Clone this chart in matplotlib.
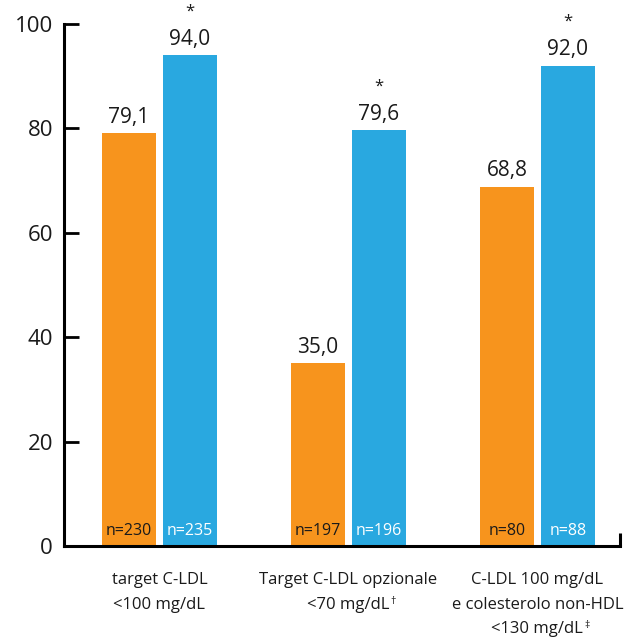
import matplotlib
matplotlib.use("Agg")
import matplotlib.pyplot as plt
import numpy as np

plt.rcParams['font.family'] = ['Open Sans', 'DejaVu Sans']

categories = [["target C-LDL", "<100 mg/dL"],
              ["Target C-LDL opzionale", "<70 mg/dL"],
              ["C-LDL 100 mg/dL", "e colesterolo non-HDL", "<130 mg/dL"]]
category_marks = ["", "\u2020", "\u2021"]
orange_vals = [79.1, 35.0, 68.8]
blue_vals = [94.0, 79.6, 92.0]
orange_n = [230, 197, 80]
blue_n = [235, 196, 88]
blue_star = [True, True, True]
yticks = [0, 20, 40, 60, 80, 100]

ORANGE = "#F7941D"
BLUE = "#29A8E0"
TEXT = "#1a1a1a"

fig = plt.figure(figsize=(6.29, 6.38), dpi=100)
ax = fig.add_axes([64/629, 92/638, 556/629, 522/638])

x = np.arange(len(categories))
w = 0.2857
off = 0.1614

ax.bar(x - off, orange_vals, width=w, color=ORANGE, zorder=2)
ax.bar(x + off, blue_vals, width=w, color=BLUE, zorder=2)

def fmt(v):
    return f"{v:.1f}".replace(".", ",")

for xi, v, n in zip(x - off, orange_vals, orange_n):
    ax.annotate(fmt(v), (xi, v), xytext=(0, 4), textcoords="offset points",
                ha="center", va="bottom", fontsize=15, color=TEXT)
    ax.annotate(f"n={n}", (xi, 0), xytext=(0, 11), textcoords="offset points",
                ha="center", va="center", fontsize=11.5, color=TEXT)

for xi, v, n, s in zip(x + off, blue_vals, blue_n, blue_star):
    ax.annotate(fmt(v), (xi, v), xytext=(0, 4), textcoords="offset points",
                ha="center", va="bottom", fontsize=15, color=TEXT)
    if s:
        ax.annotate("*", (xi, v), xytext=(0, 26), textcoords="offset points",
                    ha="center", va="bottom", fontsize=12, color=TEXT)
    ax.annotate(f"n={n}", (xi, 0), xytext=(0, 11), textcoords="offset points",
                ha="center", va="center", fontsize=11.5, color="white")

ax.set_xlim(-0.505, 2.437)
ax.set_ylim(0, 100)
ax.set_yticks(yticks)
ax.set_yticklabels([str(t) for t in yticks], fontsize=16, color=TEXT)
ax.set_xticks(x)
ax.set_xticklabels([])
ax.tick_params(axis="y", direction="in", length=11, width=2, pad=8, color="black")
ax.tick_params(axis="x", length=0)

# category labels, one line at a time, with superscript footnote marks
line_offsets = [24.5, 42.5, 59.5]
xtrans = ax.get_xaxis_transform()
for xi, lines, mark in zip(x, categories, category_marks):
    last = None
    for line, dy in zip(lines, line_offsets):
        last = ax.annotate(line, (xi, 0), xycoords=xtrans, xytext=(0, -dy),
                           textcoords="offset points", ha="center", va="center",
                           fontsize=12, color=TEXT, annotation_clip=False)
    if mark:
        ax.annotate(mark, (1, 0.72), xycoords=last, xytext=(0.5, 0),
                    textcoords="offset points", ha="left", va="center",
                    fontsize=7.5, color=TEXT)

ax.spines["top"].set_visible(False)
ax.spines["right"].set_visible(False)
for side in ["left", "bottom"]:
    ax.spines[side].set_linewidth(2.2)
    ax.spines[side].set_color("black")

# small closing tick at the right end of the baseline
ax.plot([1, 1], [0, 0.025], transform=ax.transAxes,
        color="black", lw=2.2, clip_on=False, solid_capstyle="butt")

fig.savefig("out.png", dpi=100)
